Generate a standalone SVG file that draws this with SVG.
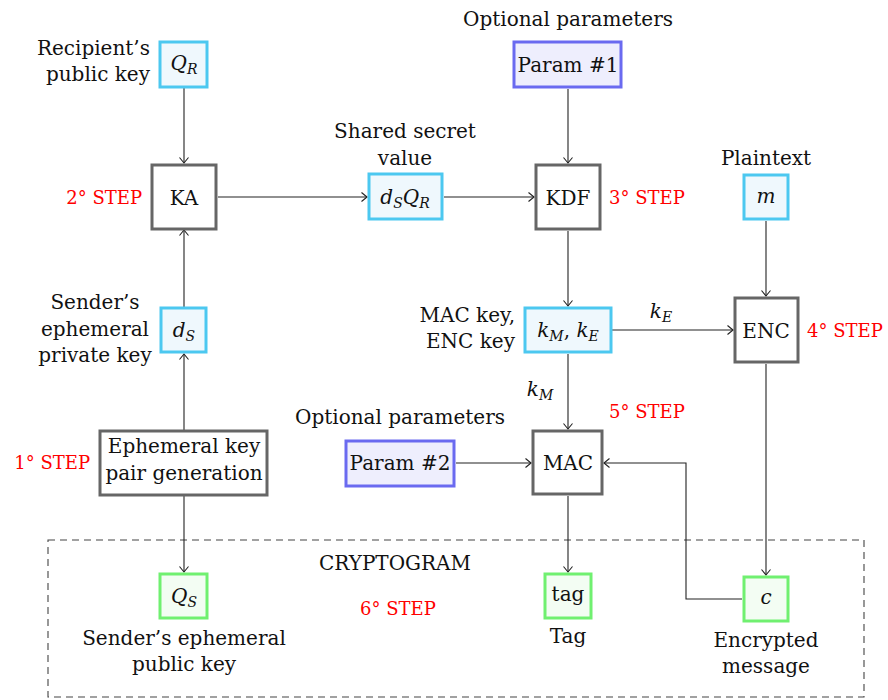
<svg xmlns="http://www.w3.org/2000/svg" width="888" height="700" viewBox="0 0 888 700">
<style>
text{font-family:"DejaVu Serif","Liberation Serif",serif;font-size:20px;fill:#111}
.c{text-anchor:middle}
.e{text-anchor:end}
.step{fill:#ff0000;font-size:18px}
.m{font-style:italic}
.sub{font-size:14px}
.gray{fill:#ffffff;stroke:#666666;stroke-width:3}
.cyan{fill:#eff8fd;stroke:#4cc8f0;stroke-width:3}
.green{fill:#f3fdf3;stroke:#70f070;stroke-width:3}
.blue{fill:#eeeefd;stroke:#6a6af0;stroke-width:3}
.conn path{fill:none;stroke:#222;stroke-width:1.1;marker-end:url(#arr)}
</style>
<defs>
<marker id="arr" viewBox="-7 -6 8 12" refX="0" refY="0" markerWidth="8" markerHeight="12" orient="auto" markerUnits="userSpaceOnUse">
<path d="M-5.5,-4.5 Q-1.5,-1.2 0,0 Q-1.5,1.2 -5.5,4.5" fill="none" stroke="#222" stroke-width="1.1"/>
</marker>
</defs>
<rect x="48" y="540" width="816" height="157" fill="none" stroke="#444" stroke-width="1.1" stroke-dasharray="7,5"/>
<g class="conn">
<path d="M184,88 V163"/>
<path d="M184,307 V230"/>
<path d="M184,430 V354"/>
<path d="M184,496 V572"/>
<path d="M218,197 H367"/>
<path d="M444,197 H534"/>
<path d="M568,89 V163"/>
<path d="M568,231 V306"/>
<path d="M612,330 H733"/>
<path d="M766,221 V296"/>
<path d="M568,354 V429"/>
<path d="M456,463 H531"/>
<path d="M568,496 V572"/>
<path d="M766,364 V575"/>
<path d="M742,599 H686 V463 H604"/>
</g>
<g id="QR"><rect class="cyan" x="160" y="42" width="47" height="45"/><text class="m c" x="184" y="70">Q<tspan class="sub" dy="4">R</tspan></text></g>
<text class="e" x="150" y="55">Recipient’s</text>
<text class="e" x="150" y="81">public key</text>
<g id="KA"><rect class="gray" x="152" y="165" width="64" height="64"/><text class="c" x="184" y="205">KA</text></g>
<text class="e step" x="142" y="204">2° STEP</text>
<g id="dSQR"><rect class="cyan" x="369" y="174" width="73" height="45"/><text class="m c" x="405" y="204">d<tspan class="sub" dy="4">S</tspan><tspan dy="-4">Q</tspan><tspan class="sub" dy="4">R</tspan></text></g>
<text class="c" x="405" y="138">Shared secret</text>
<text class="c" x="405" y="165">value</text>
<g id="KDF"><rect class="gray" x="536" y="165" width="64" height="64"/><text class="c" x="568" y="205">KDF</text></g>
<text class="step" x="609" y="204">3° STEP</text>
<g id="P1"><rect class="blue" x="514" y="42" width="107" height="45"/><text class="c" x="568" y="72">Param #1</text></g>
<text class="c" x="568" y="26">Optional parameters</text>
<g id="m"><rect class="cyan" x="744" y="175" width="44" height="44"/><text class="m c" x="766" y="203">m</text></g>
<text class="c" x="766" y="165">Plaintext</text>
<g id="ENC"><rect class="gray" x="735" y="298" width="63" height="64"/><text class="c" x="766" y="338">ENC</text></g>
<text class="step" x="807" y="337">4° STEP</text>
<g id="kMkE"><rect class="cyan" x="525" y="308" width="86" height="44"/><text class="m c" x="568" y="337">k<tspan class="sub" dy="4">M</tspan><tspan dy="-4" font-style="normal">, </tspan>k<tspan class="sub" dy="4">E</tspan></text></g>
<text class="e" x="515" y="322">MAC key,</text>
<text class="e" x="515" y="348">ENC key</text>
<text class="m c" x="661" y="318">k<tspan class="sub" dy="4">E</tspan></text>
<text class="m c" x="540" y="396">k<tspan class="sub" dy="4">M</tspan></text>
<g id="MAC"><rect class="gray" x="533" y="431" width="69" height="63"/><text class="c" x="568" y="470">MAC</text></g>
<text class="step" x="609" y="418">5° STEP</text>
<g id="P2"><rect class="blue" x="346" y="441" width="108" height="45"/><text class="c" x="400" y="470">Param #2</text></g>
<text class="c" x="400" y="424">Optional parameters</text>
<g id="EKG"><rect class="gray" x="100" y="431" width="167" height="64"/><text class="c" x="184" y="453">Ephemeral key</text><text class="c" x="184" y="480">pair generation</text></g>
<text class="e step" x="90" y="469">1° STEP</text>
<g id="dS"><rect class="cyan" x="161" y="308" width="45" height="44"/><text class="m c" x="184" y="337">d<tspan class="sub" dy="4">S</tspan></text></g>
<text class="c" x="95" y="309">Sender’s</text>
<text class="c" x="95" y="336">ephemeral</text>
<text class="c" x="95" y="362">private key</text>
<g id="QS"><rect class="green" x="160" y="574" width="47" height="44"/><text class="m c" x="184" y="603">Q<tspan class="sub" dy="4">S</tspan></text></g>
<text class="c" x="184" y="645">Sender’s ephemeral</text>
<text class="c" x="184" y="671">public key</text>
<g id="tag"><rect class="green" x="545" y="574" width="46" height="44"/><text class="c" x="568" y="601">tag</text></g>
<text class="c" x="568" y="643">Tag</text>
<g id="c"><rect class="green" x="744" y="577" width="44" height="44"/><text class="m c" x="766" y="604">c</text></g>
<text class="c" x="766" y="647">Encrypted</text>
<text class="c" x="766" y="673">message</text>
<text class="c" x="395" y="570">CRYPTOGRAM</text>
<text class="c step" x="398" y="615">6° STEP</text>
</svg>
